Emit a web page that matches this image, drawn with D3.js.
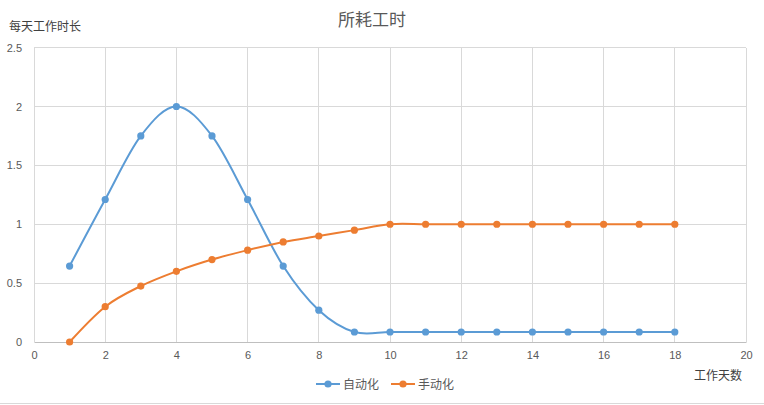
<!DOCTYPE html>
<html><head><meta charset="utf-8">
<script src="https://cdn.jsdelivr.net/npm/d3@7"></script>
<style>body{margin:0;background:#fff}svg{display:block;font-family:"Noto Sans CJK SC","Microsoft YaHei",sans-serif}</style>
</head><body><svg id="c" width="764" height="405"></svg>
<script>
const days = [1,2,3,4,5,6,7,8,9,10,11,12,13,14,15,16,17,18];
const autoVals = [0.645,1.21,1.75,2.0,1.75,1.21,0.645,0.27,0.085,0.085,0.085,0.085,0.085,0.085,0.085,0.085,0.085,0.085];
const manualVals = [0,0.30,0.475,0.60,0.70,0.78,0.85,0.90,0.95,1.0,1.0,1.0,1.0,1.0,1.0,1.0,1.0,1.0];
const seriesNames = ["自动化","手动化"];
const colors = ["#5b9bd5","#ed7d31"];
const xTicks = [0,2,4,6,8,10,12,14,16,18,20];
const yTicks = [0,0.5,1,1.5,2,2.5];
const title = "所耗工时", yTitle = "每天工作时长", xTitle = "工作天数";

const svg = d3.select("#c");
const x = d3.scaleLinear().domain([0,20]).range([34,746]);
const y = d3.scaleLinear().domain([0,2.5]).range([342,47.6]);

// gridlines
svg.append("g").selectAll("line.h").data(yTicks.filter(d=>d>0)).join("line")
  .attr("x1",x(0)).attr("x2",x(20)).attr("y1",d=>y(d)).attr("y2",d=>y(d))
  .attr("stroke","#d9d9d9").attr("stroke-width",1).attr("shape-rendering","crispEdges");
svg.append("g").selectAll("line.v").data(xTicks).join("line")
  .attr("x1",d=>x(d)).attr("x2",d=>x(d)).attr("y1",y(0)).attr("y2",y(2.5))
  .attr("stroke","#d9d9d9").attr("stroke-width",1).attr("shape-rendering","crispEdges");

// x axis
const xa = svg.append("g").attr("transform",`translate(0,${y(0)})`)
  .call(d3.axisBottom(x).tickValues(xTicks).tickSize(0).tickPadding(9).tickFormat(d3.format("d")));
xa.select(".domain").attr("stroke","#bfbfbf");
xa.selectAll("text").attr("fill","#595959").style("font-size","11px").style("font-family","Liberation Sans, Arial, sans-serif");

const ya = svg.append("g").attr("transform",`translate(${x(0)},0)`)
  .call(d3.axisLeft(y).tickValues(yTicks).tickSize(0).tickPadding(12).tickFormat(d=>String(d)));
ya.select(".domain").remove();
ya.selectAll("text").attr("fill","#595959").style("font-size","11px").style("font-family","Liberation Sans, Arial, sans-serif");

// series
const data = [autoVals, manualVals];
const line = d3.line().x((d,i)=>x(days[i])).y(d=>y(d)).curve(d3.curveCatmullRom.alpha(0));
data.forEach((vals,k)=>{
  svg.append("path").attr("d",line(vals)).attr("fill","none")
    .attr("stroke",colors[k]).attr("stroke-width",2);
  svg.append("g").selectAll("circle").data(vals).join("circle")
    .attr("cx",(d,i)=>x(days[i])).attr("cy",d=>y(d)).attr("r",3.6).attr("fill",colors[k]);
});

// titles
svg.append("text").attr("x",372).attr("y",26).attr("text-anchor","middle")
  .attr("fill","#595959").style("font-size","17px").text(title);
svg.append("text").attr("x",9).attr("y",31)
  .attr("fill","#404040").style("font-size","12px").text(yTitle);
svg.append("text").attr("x",742).attr("y",380).attr("text-anchor","end")
  .attr("fill","#404040").style("font-size","12px").text(xTitle);

// legend
const lg = svg.append("g");
const lx = [316, 391];
seriesNames.forEach((n,k)=>{
  lg.append("line").attr("x1",lx[k]).attr("x2",lx[k]+24).attr("y1",384).attr("y2",384)
    .attr("stroke",colors[k]).attr("stroke-width",2);
  lg.append("circle").attr("cx",lx[k]+12).attr("cy",384).attr("r",3.6).attr("fill",colors[k]);
  lg.append("text").attr("x",lx[k]+27).attr("y",388.5).attr("fill","#595959")
    .style("font-size","12px").text(n);
});
// bottom border
svg.append("line").attr("x1",0).attr("x2",764).attr("y1",403.5).attr("y2",403.5).attr("stroke","#d9d9d9");
</script></body></html>
